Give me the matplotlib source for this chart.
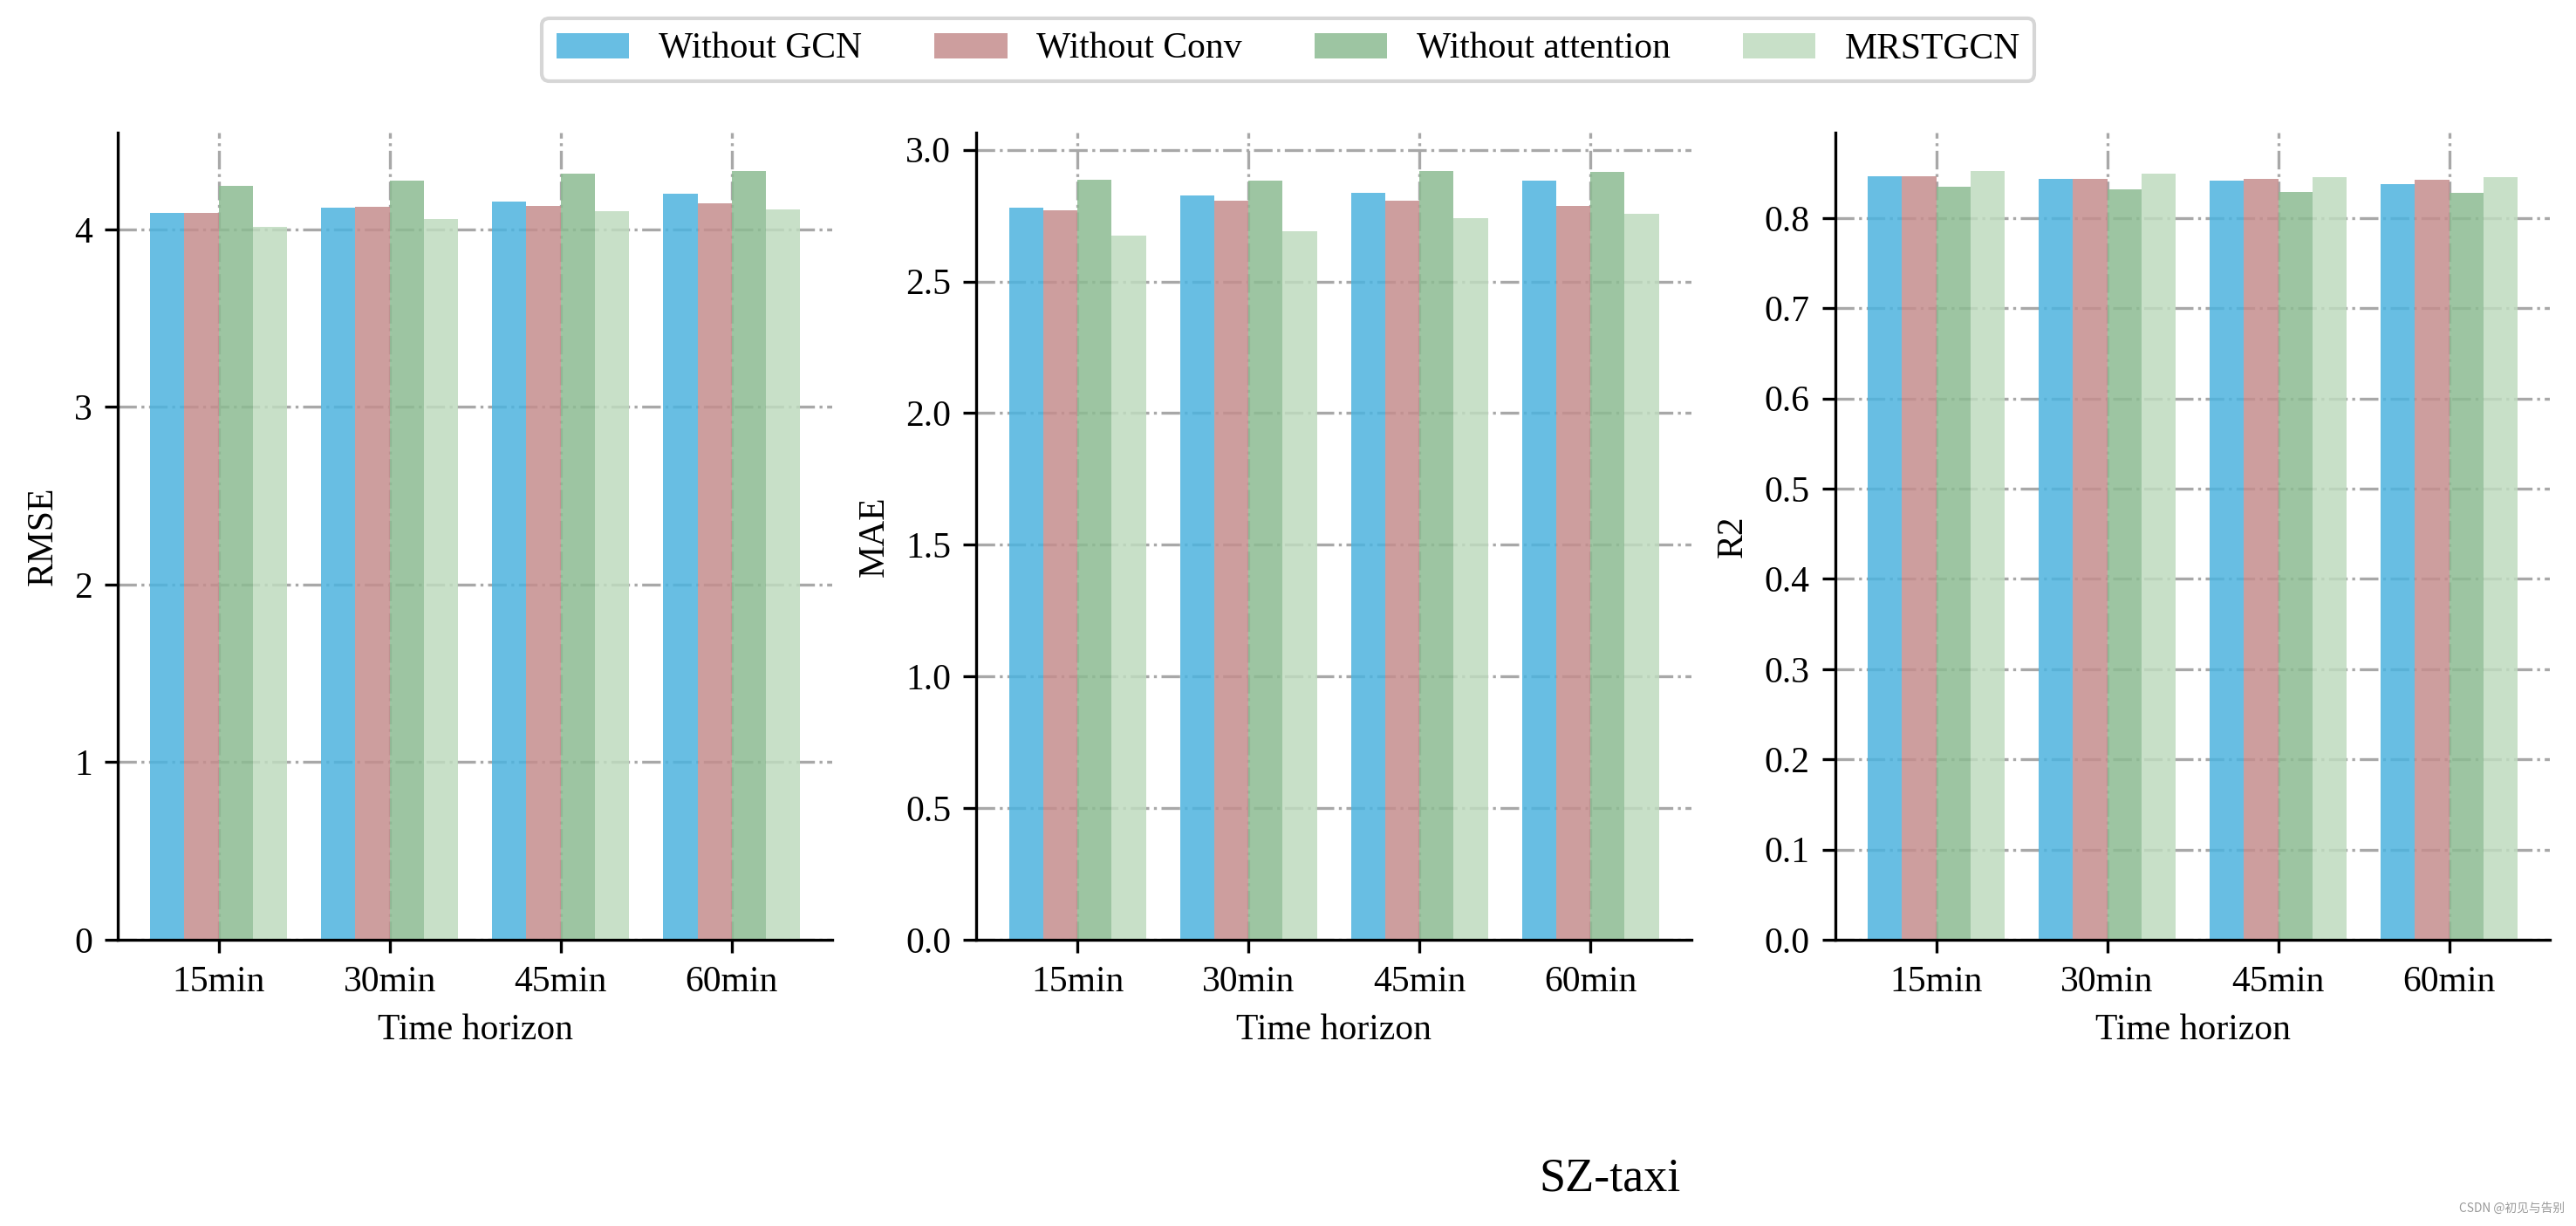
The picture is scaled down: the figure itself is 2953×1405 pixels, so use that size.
import numpy as np
import matplotlib
matplotlib.use("Agg")
import matplotlib.pyplot as plt

plt.rcParams['font.family'] = ['Liberation Serif', 'DejaVu Serif']
plt.rcParams['font.size'] = 10

# data
horizons = ["15min", "30min", "45min", "60min"]
models = ["Without GCN", "Without Conv", "Without attention", "MRSTGCN"]
# bars are slightly see-through, so these are a bit darker than they look
colors = ["#4DB3DF", "#C58D8D", "#8CBB92", "#BFDBBF"]
bar_alpha = 0.85

rmse = [
    [4.093, 4.125, 4.157, 4.202],   # Without GCN
    [4.093, 4.128, 4.133, 4.148],   # Without Conv
    [4.246, 4.276, 4.315, 4.330],   # Without attention
    [4.015, 4.059, 4.103, 4.113],   # MRSTGCN
]
mae = [
    [2.780, 2.827, 2.837, 2.884],
    [2.770, 2.807, 2.807, 2.787],
    [2.887, 2.884, 2.920, 2.917],
    [2.674, 2.690, 2.740, 2.757],
]
r2 = [
    [0.8466, 0.8437, 0.8418, 0.8380],
    [0.8466, 0.8437, 0.8437, 0.8427],
    [0.8350, 0.8320, 0.8290, 0.8280],
    [0.8524, 0.8495, 0.8456, 0.8456],
]

metrics = [("RMSE", rmse, [0, 1, 2, 3, 4], "{:.0f}"),
           ("MAE", mae, np.arange(0, 3.01, 0.5), "{:.1f}"),
           ("R2", r2, np.arange(0, 0.81, 0.1), "{:.1f}")]

fig, axes = plt.subplots(1, 3, figsize=(2954 / 300, 1405 / 300), dpi=300)
fig.subplots_adjust(left=0.0457, right=0.9896, bottom=0.2335, top=0.892,
                    wspace=0.2015)

x = np.arange(len(horizons))
w = 0.2
for ax, (name, vals, yt, fmt) in zip(axes, metrics):
    for i, (m, c) in enumerate(zip(models, colors)):
        ax.bar(x + (i - 1.5) * w, vals[i], width=w, color=c, label=m,
               alpha=bar_alpha)
    ax.set_xticks(x)
    ax.set_xticklabels(horizons)
    ax.set_yticks(yt)
    ax.set_yticklabels([fmt.format(v) for v in yt])
    ax.set_xlabel("Time horizon")
    ax.set_ylabel(name)
    ax.set_axisbelow(True)
    ax.grid(True, linestyle="-.", color="#a8a8a8", linewidth=0.8)
    ax.spines["top"].set_visible(False)
    ax.spines["right"].set_visible(False)

handles, labels = axes[0].get_legend_handles_labels()
fig.legend(handles, labels, loc="upper center", ncol=4)

fig.text(0.6246, 0.0285, "SZ-taxi", fontsize=13, ha="center", va="baseline")
fig.text(0.9953, 0.0114, "CSDN @初见与告别", fontsize=3.3, color="#999999",
         ha="right", va="baseline", family=["Noto Sans CJK SC", "DejaVu Sans"])

fig.savefig("out.png", dpi=300)
